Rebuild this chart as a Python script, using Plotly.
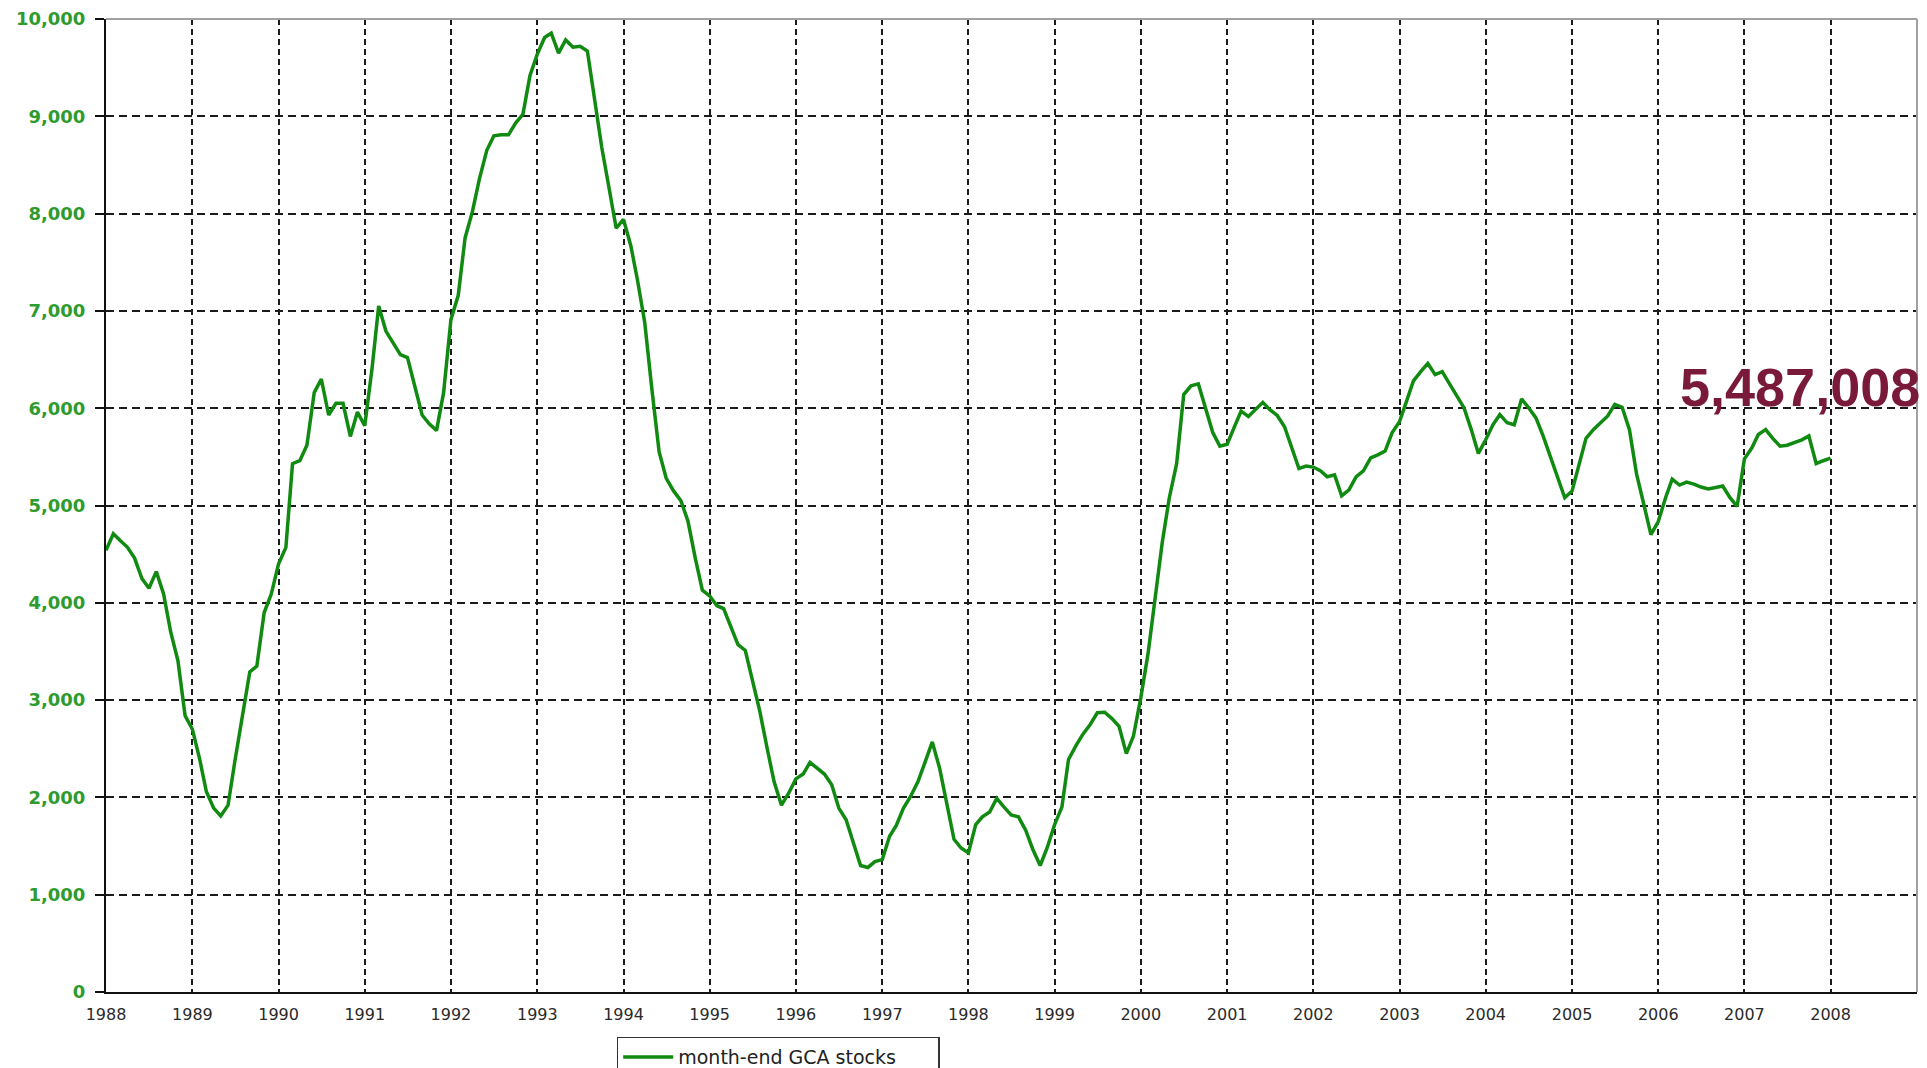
import pandas as pd
import plotly.graph_objects as go

# Month-end GCA stocks (thousands), Jan 1988 .. Jan 2008
months = pd.date_range("1988-01-01", periods=241, freq="MS")

stocks = [
    # 1988
    4540, 4710, 4640, 4570, 4460, 4250, 4150, 4320, 4090, 3700, 3400, 2840,
    # 1989
    2700, 2390, 2060, 1890, 1810, 1920, 2390, 2840, 3290, 3350, 3900, 4090,
    # 1990
    4400, 4570, 5430, 5460, 5620, 6160, 6300, 5930, 6050, 6050, 5710, 5960,
    # 1991
    5820, 6410, 7050, 6790, 6680, 6550, 6520, 6230, 5930, 5840, 5770, 6160,
    # 1992
    6910, 7160, 7750, 8020, 8360, 8650, 8800, 8810, 8810, 8930, 9020, 9420,
    # 1993
    9640, 9810, 9855, 9650, 9785, 9710, 9720, 9670, 9150, 8680, 8260, 7850,
    # 1994
    7940, 7670, 7320, 6880, 6200, 5550, 5280, 5150, 5050, 4840, 4460, 4130,
    # 1995
    4070, 3970, 3940, 3750, 3570, 3510, 3220, 2890, 2510, 2160, 1920, 2040,
    # 1996
    2190, 2240, 2360, 2300, 2240, 2130, 1890, 1770, 1540, 1300, 1280, 1340,
    # 1997
    1360, 1600, 1710, 1890, 2010, 2160, 2360, 2570, 2300, 1950, 1570, 1480,
    # 1998
    1430, 1720, 1800, 1850, 1990, 1900, 1820, 1800, 1660, 1465, 1300, 1485,
    # 1999
    1720, 1900, 2390, 2530, 2650, 2750, 2870, 2875, 2810, 2730, 2450, 2630,
    # 2000
    3020, 3480, 4010, 4620, 5080, 5430, 6140, 6230, 6250, 6005, 5750, 5610,
    # 2001
    5630, 5810, 5970, 5915, 5985, 6060, 5985, 5925, 5810, 5590, 5380, 5405,
    # 2002
    5395, 5355, 5295, 5315, 5100, 5160, 5295, 5355, 5490, 5520, 5560, 5750,
    # 2003
    5860, 6080, 6280, 6375, 6460, 6345, 6375, 6250, 6130, 6005, 5780, 5535,
    # 2004
    5675, 5830, 5935, 5850, 5830, 6095, 6005, 5900, 5710, 5500, 5290, 5080,
    # 2005
    5150, 5430, 5690, 5780, 5850, 5920, 6040, 6010, 5780, 5325, 5010, 4700,
    # 2006
    4835, 5080, 5270, 5210, 5240, 5220, 5190, 5170, 5185, 5200, 5080, 4990,
    # 2007
    5480, 5590, 5730, 5780, 5690, 5610, 5620, 5650, 5675, 5715, 5430, 5460,
    # 2008
    5487,
]

series_name = "month-end GCA stocks"
latest_label = "5,487,008"
y_ticks = [0, 1000, 2000, 3000, 4000, 5000, 6000, 7000, 8000, 9000, 10000]

LINE_GREEN = "#118a11"
LABEL_GREEN = "#2e9b2e"

fig = go.Figure()
fig.add_trace(go.Scatter(
    x=months, y=stocks, mode="lines", name=series_name,
    line=dict(color=LINE_GREEN, width=3.5),
))

fig.update_layout(
    width=1927, height=1068,
    margin=dict(l=106, r=10, t=19, b=76, autoexpand=False),
    paper_bgcolor="white", plot_bgcolor="white",
    showlegend=True,
    legend=dict(
        x=0.282, y=-0.0458, xanchor="left", yanchor="top",
        orientation="h",
        bordercolor="#333333", borderwidth=1.5, bgcolor="white",
        font=dict(family="DejaVu Sans", size=19, color="#222222"),
        itemwidth=50, entrywidth=255,
    ),
    xaxis=dict(
        type="date",
        range=["1988-01-01", "2009-01-01"],
        tick0="1988-01-01", dtick="M12", tickformat="%Y",
        showgrid=True, gridcolor="#1a1a1a", gridwidth=1.5, griddash="6px,4px",
        showline=True, linecolor="#111111", linewidth=2,
        ticks="", ticklabelstandoff=7,
        tickfont=dict(family="DejaVu Sans", size=16, color="#2a2a2a"),
        zeroline=False,
    ),
    yaxis=dict(
        range=[0, 10000],
        tickvals=y_ticks, tickformat=",",
        showgrid=True, gridcolor="#1a1a1a", gridwidth=1.5, griddash="8px,5px",
        showline=True, linecolor="#111111", linewidth=2,
        ticks="outside", ticklen=9, tickwidth=2, tickcolor="#111111",
        ticklabelstandoff=6,
        tickfont=dict(family="DejaVu Sans", size=18, color=LABEL_GREEN, weight="bold"),
        zeroline=False,
    ),
    shapes=[
        dict(type="line", xref="paper", yref="paper", x0=0, x1=1, y0=1, y1=1,
             line=dict(color="#a0a0a0", width=2), layer="above"),
        dict(type="line", xref="paper", yref="paper", x0=1, x1=1, y0=0, y1=1,
             line=dict(color="#a0a0a0", width=2), layer="above"),
    ],
    annotations=[
        dict(text=latest_label, xref="paper", yref="y", x=1.0028, y=6220,
             xanchor="right", yanchor="middle", showarrow=False,
             font=dict(family="Liberation Sans", size=54, color="#7a1a3b", weight="bold")),
    ],
)

fig.write_html(
    "out.html",
    config={"displayModeBar": False},
    post_script="document.body.style.margin='0';document.body.style.overflow='hidden';",
)
